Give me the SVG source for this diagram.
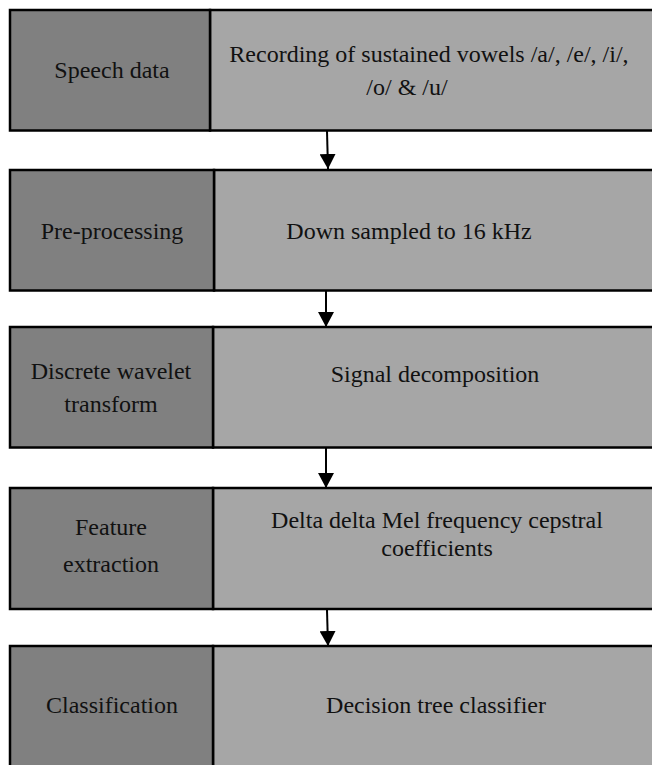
<svg xmlns="http://www.w3.org/2000/svg" width="652" height="765" viewBox="0 0 652 765">
<style>
.l{fill:#808080;stroke:#000;stroke-width:2.5}
.r{fill:#a6a6a6;stroke:#000;stroke-width:2.5}
text{font-family:"Liberation Serif","Times New Roman",serif;font-size:24px;fill:#111;text-anchor:middle}
.c{stroke:#000;stroke-width:2;fill:none}
</style>
<defs>
<marker id="ah" markerUnits="userSpaceOnUse" markerWidth="16" markerHeight="16" refX="15" refY="8" orient="auto">
<path d="M0,0 L15,8 L0,16 Z" fill="#000"/>
</marker>
</defs>
<rect width="652" height="765" fill="#fff"/>
<g id="n1">
<rect class="r" x="210" y="10" width="460" height="120.5"/>
<rect class="l" x="10" y="10" width="200" height="120.5"/>
<text x="112" y="78">Speech data</text>
<text x="429" y="62">Recording of sustained vowels /a/, /e/, /i/,</text>
<text x="407" y="95">/o/ &amp; /u/</text>
</g>
<g id="n2">
<rect class="r" x="214" y="170" width="456" height="120.5"/>
<rect class="l" x="10" y="170" width="204" height="120.5"/>
<text x="112" y="239">Pre-processing</text>
<text x="409" y="239">Down sampled to 16 kHz</text>
</g>
<g id="n3">
<rect class="r" x="213" y="327" width="457" height="120.5"/>
<rect class="l" x="10" y="327" width="203" height="120.5"/>
<text x="111" y="379">Discrete wavelet</text>
<text x="111" y="412">transform</text>
<text x="435" y="382">Signal decomposition</text>
</g>
<g id="n4">
<rect class="r" x="213" y="488" width="457" height="121"/>
<rect class="l" x="10" y="488" width="203" height="121"/>
<text x="111" y="535">Feature</text>
<text x="111" y="572">extraction</text>
<text x="437" y="528">Delta delta Mel frequency cepstral</text>
<text x="437" y="556">coefficients</text>
</g>
<g id="n5">
<rect class="r" x="213" y="646" width="457" height="130"/>
<rect class="l" x="10" y="646" width="203" height="130"/>
<text x="112" y="713">Classification</text>
<text x="436" y="713">Decision tree classifier</text>
</g>
<g id="connectors">
<line class="c" x1="327" y1="131" x2="328" y2="169" marker-end="url(#ah)"/>
<line class="c" x1="326" y1="291" x2="326" y2="327" marker-end="url(#ah)"/>
<line class="c" x1="326" y1="448" x2="326" y2="488" marker-end="url(#ah)"/>
<line class="c" x1="327" y1="610" x2="328" y2="646" marker-end="url(#ah)"/>
</g>
</svg>
